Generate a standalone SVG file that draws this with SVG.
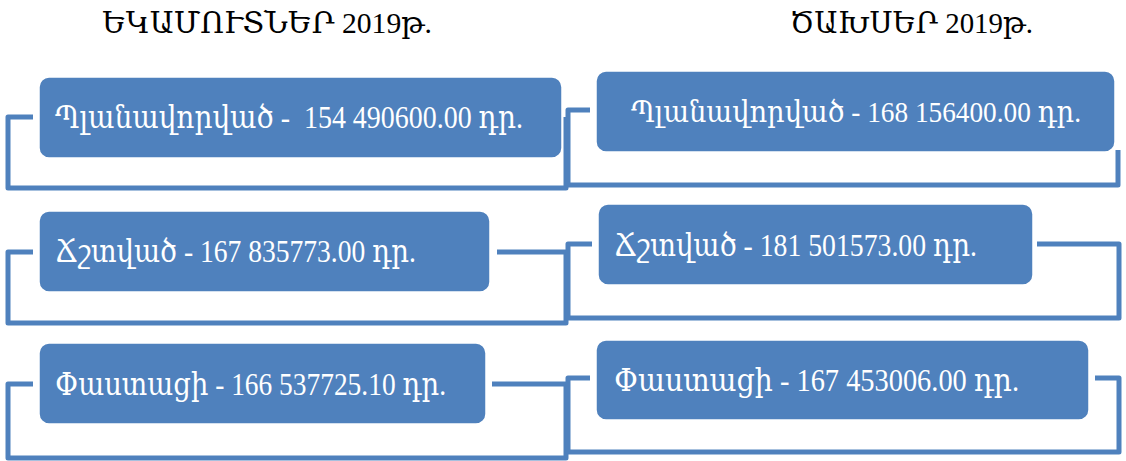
<svg xmlns="http://www.w3.org/2000/svg" width="1126" height="461" viewBox="0 0 1126 461">
<style>
.ln{fill:none;stroke:#4F81BD;stroke-width:5;stroke-linejoin:round;stroke-linecap:butt}
.bx{fill:#4F81BD;stroke:#FFFFFF;stroke-width:1.5}
.tx{fill:#FFFFFF;font-family:"Liberation Serif","DejaVu Serif",serif;font-size:31px;white-space:pre}
.hd{fill:#000000;font-family:"Liberation Serif","DejaVu Serif",serif;font-size:30px}
</style>
<rect width="1126" height="461" fill="#FFFFFF"/>
<g id="connectors">
<path class="ln" d="M33,117 H8 V188 H566 V117"/>
<path class="ln" d="M33,252 H8 V323 H566 V252 H497"/>
<path class="ln" d="M33,384 H8 V458 H566 V384 H492"/>
<path class="ln" d="M590,110 H568 V185 H1118 V150"/>
<path class="ln" d="M592,244 H568 V318 H1119 V244 H1037"/>
<path class="ln" d="M590,378 H568 V452 H1119 V378 H1095"/>
</g>
<g id="header-left"><text class="hd" x="102" y="33" textLength="330" lengthAdjust="spacingAndGlyphs">ԵԿԱՄՈՒՏՆԵՐ 2019թ.</text></g>
<g id="header-right"><text class="hd" x="790" y="33" textLength="243" lengthAdjust="spacingAndGlyphs">ԾԱԽՍԵՐ 2019թ.</text></g>
<g id="node-l1"><rect class="bx" x="39" y="77" width="523" height="81" rx="10"/><text class="tx" x="55" y="128" textLength="468" lengthAdjust="spacingAndGlyphs">Պլանավորված -  154 490600.00 դր.</text></g>
<g id="node-r1"><rect class="bx" x="596" y="71" width="519" height="81" rx="10"/><text class="tx" x="631" y="122" style="font-size:29px" textLength="450" lengthAdjust="spacingAndGlyphs">Պլանավորված - 168 156400.00 դր.</text></g>
<g id="node-l2"><rect class="bx" x="39" y="211" width="451" height="81" rx="10"/><text class="tx" x="55" y="262" textLength="361" lengthAdjust="spacingAndGlyphs">Ճշտված - 167 835773.00 դր.</text></g>
<g id="node-r2"><rect class="bx" x="598" y="204" width="435" height="81" rx="10"/><text class="tx" x="614" y="256" textLength="363" lengthAdjust="spacingAndGlyphs">Ճշտված - 181 501573.00 դր.</text></g>
<g id="node-l3"><rect class="bx" x="39" y="343" width="447" height="81" rx="10"/><text class="tx" x="55" y="395" textLength="391" lengthAdjust="spacingAndGlyphs">Փաստացի - 166 537725.10 դր.</text></g>
<g id="node-r3"><rect class="bx" x="596" y="340" width="493" height="80" rx="10"/><text class="tx" x="614" y="391" textLength="405" lengthAdjust="spacingAndGlyphs">Փաստացի - 167 453006.00 դր.</text></g>
</svg>
